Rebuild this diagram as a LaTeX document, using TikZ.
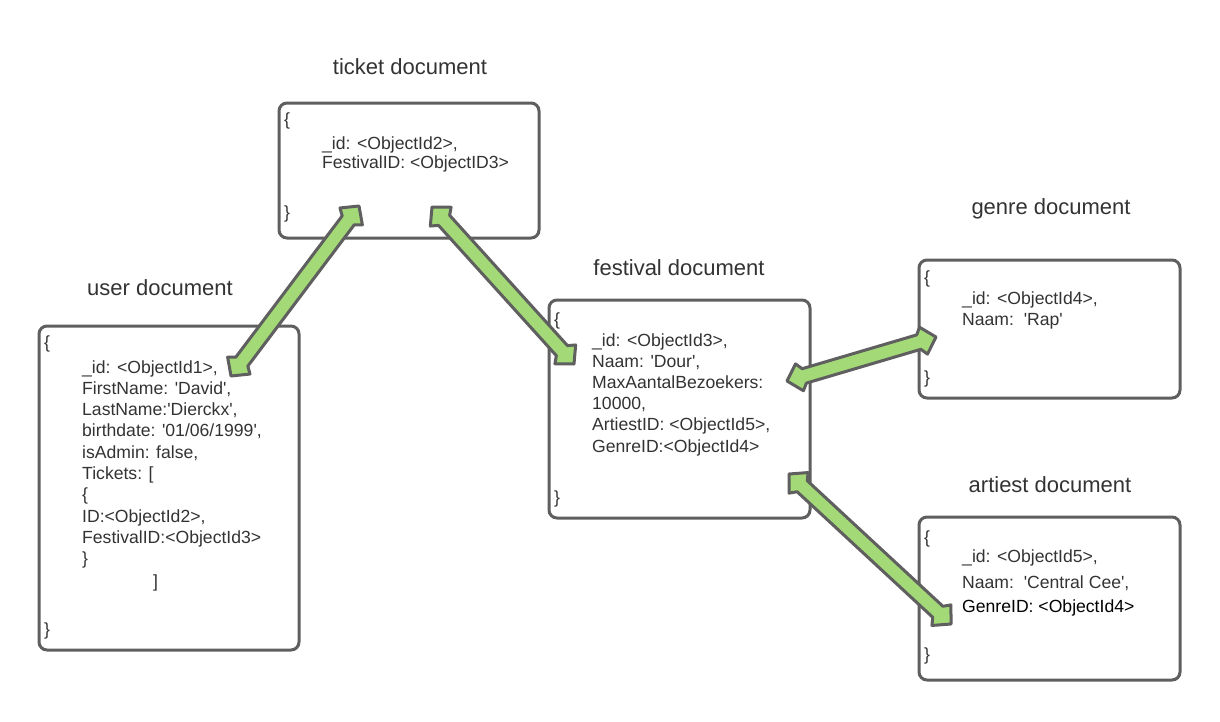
\documentclass[tikz,border=0pt]{standalone}
\usepackage{fontspec}
\setmainfont{Liberation Sans}
\usetikzlibrary{calc}
\definecolor{edgegray}{HTML}{5F5F5F}
\definecolor{txtgray}{HTML}{333333}
\definecolor{linkgreen}{HTML}{A3D977}
\newcommand\sq{\textquotesingle}
% double-headed block arrow between two named coordinates
\newcommand\fatarrow[2]{%
  \draw[linkarrow] (#1)
    -- ($(#1)!13pt!(#2)!14pt!90:(#2)$)
    -- ($(#1)!18pt!(#2)!7.5pt!90:(#2)$)
    -- ($(#2)!18pt!(#1)!7.5pt!-90:(#1)$)
    -- ($(#2)!13pt!(#1)!14pt!-90:(#1)$)
    -- (#2)
    -- ($(#2)!13pt!(#1)!14pt!90:(#1)$)
    -- ($(#2)!18pt!(#1)!7.5pt!90:(#1)$)
    -- ($(#1)!18pt!(#2)!7.5pt!-90:(#2)$)
    -- ($(#1)!13pt!(#2)!14pt!-90:(#2)$)
    -- cycle;}
\begin{document}
\begin{tikzpicture}[x=1pt,y=-1pt,
  docbox/.style={draw=edgegray, line width=3pt, rounded corners=8pt, fill=white,
    anchor=north west, inner sep=0pt, outer sep=0pt},
  title/.style={anchor=base, inner sep=0pt, text=txtgray, font=\fontsize{22}{26}\selectfont},
  field/.style={anchor=base west, inner sep=0pt, text=txtgray, font=\fontsize{17.6}{21}\selectfont},
  linkarrow/.style={draw=edgegray, fill=linkgreen, line width=3pt, line join=round}]
\useasboundingbox (0,0) rectangle (1220,721);
\fill[white] (0,0) rectangle (1220,721);

% document boxes
\node[docbox, minimum width=260pt, minimum height=135pt] (ticket) at (279,103) {};
\node[docbox, minimum width=260pt, minimum height=324pt] (user) at (39,326) {};
\node[docbox, minimum width=261pt, minimum height=218pt] (festival) at (549,300) {};
\node[docbox, minimum width=261pt, minimum height=138pt] (genre) at (919,260) {};
\node[docbox, minimum width=261pt, minimum height=163pt] (artiest) at (919,517) {};

% titles
\node[title] (ticket-title) at (410,74) {ticket document};
\node[title] (user-title) at (160,295) {user document};
\node[title] (festival-title) at (679,275) {festival document};
\node[title] (genre-title) at (1051,214) {genre document};
\node[title] (artiest-title) at (1050,492) {artiest document};

% ticket document
\node[field] (ticket-open) at (284,125) {\{};
\node[field] (ticket-f1) at (322,149) {\_id: <ObjectId2>,};
\node[field] (ticket-f2) at (322,168) {FestivalID: <ObjectID3>};
\node[field] (ticket-close) at (284,218) {\}};

% user document
\node[field] (user-open) at (44,348) {\{};
\foreach \t [count=\i] in {{\_id: <ObjectId1>,},{FirstName: \sq David\sq,},
  {LastName:\sq Dierckx\sq,},{birthdate: \sq 01/06/1999\sq,},{isAdmin: false,},
  {Tickets: [},{\{},{ID:<ObjectId2>,},{FestivalID:<ObjectId3>},{\}}}
  \node[field] (user-f\i) at (82,373+21.3*\i-21.3) {\t};
\node[field] (user-bracket) at (153,587) {]};
\node[field] (user-close) at (44,635) {\}};

% festival document
\node[field] (festival-open) at (554,325) {\{};
\foreach \t [count=\i] in {{\_id: <ObjectId3>,},{Naam: \sq Dour\sq,},
  {MaxAantalBezoekers:},{10000,},{ArtiestID: <ObjectId5>,},{GenreID:<ObjectId4>}}
  \node[field] (festival-f\i) at (592,346+21.2*\i-21.2) {\t};
\node[field] (festival-close) at (554,503) {\}};

% genre document
\node[field] (genre-open) at (924,283) {\{};
\node[field] (genre-f1) at (962,304) {\_id: <ObjectId4>,};
\node[field] (genre-f2) at (962,325) {Naam:\ \ \sq Rap\sq};
\node[field] (genre-close) at (924,383) {\}};

% artiest document
\node[field] (artiest-open) at (924,543) {\{};
\node[field] (artiest-f1) at (962,562) {\_id: <ObjectId5>,};
\node[field] (artiest-f2) at (962,588) {Naam:\ \ \sq Central Cee\sq,};
\node[field, text=black] (artiest-f3) at (962,612) {GenreID: <ObjectId4>};
\node[field] (artiest-close) at (924,660) {\}};

% link end points
\coordinate (userlink) at (231,376);
\coordinate (ticketlink-l) at (359,206);
\coordinate (ticketlink-r) at (432,207);
\coordinate (festlink-tl) at (574,364);
\coordinate (festlink-r) at (787,381);
\coordinate (genrelink) at (936,337);
\coordinate (festlink-br) at (789,474);
\coordinate (artiestlink) at (951,624);

% links
\fatarrow{userlink}{ticketlink-l}
\fatarrow{ticketlink-r}{festlink-tl}
\fatarrow{festlink-r}{genrelink}
\fatarrow{festlink-br}{artiestlink}
\end{tikzpicture}
\end{document}
